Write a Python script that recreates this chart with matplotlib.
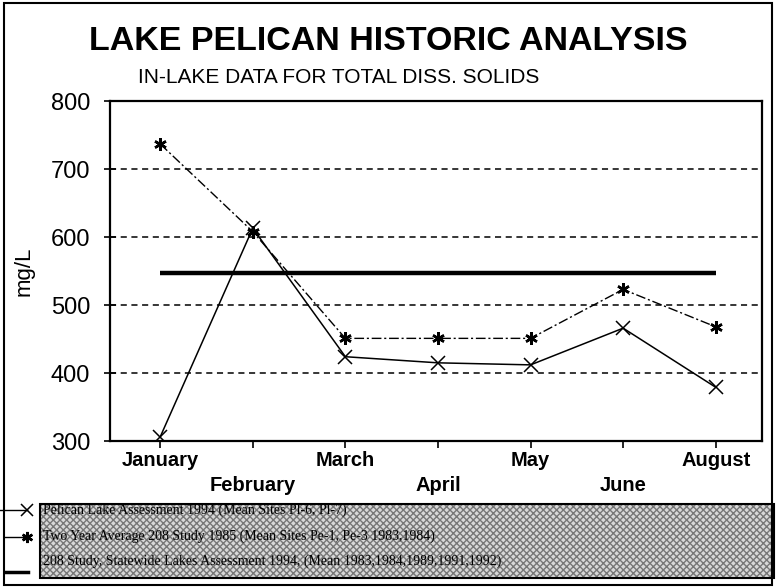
import matplotlib
matplotlib.use("Agg")
import matplotlib.pyplot as plt
from matplotlib.patches import Rectangle
from matplotlib.lines import Line2D

months = ["January", "February", "March", "April", "May", "June", "August"]
pelican_1994 = [306, 613, 424, 415, 412, 466, 379]
two_year_208 = [737, 608, 451, 451, 451, 523, 468]
statewide_1994 = [547, 547, 547, 547, 547, 547, 547]

legend_labels = [
    "Pelican Lake Assessment 1994 (Mean Sites Pl-6, Pl-7)",
    "Two Year Average 208 Study 1985 (Mean Sites Pe-1, Pe-3 1983,1984)",
    "208 Study, Statewide Lakes Assessment 1994, (Mean 1983,1984,1989,1991,1992)",
]

plt.rcParams['font.family'] = ['Liberation Sans', 'DejaVu Sans']

fig = plt.figure(figsize=(7.76, 5.88), dpi=100)
ax = fig.add_axes([0.142, 0.25, 0.840, 0.578])

x = list(range(len(months)))

ax.plot(x, statewide_1994, color="black", lw=3.2, solid_capstyle="butt", zorder=3)
ax.plot(x, two_year_208, color="black", lw=1.0, dashes=(7, 2, 1.5, 2),
        marker=(6, 2, 0), ms=9, mew=1.8, zorder=4)
ax.plot(x, pelican_1994, color="black", lw=1.1, marker="x", ms=10, mew=1.1, zorder=5)

ax.set_xlim(-0.54, 6.5)
ax.set_ylim(300, 800)
ax.set_yticks([300, 400, 500, 600, 700, 800])
ax.yaxis.grid(True, color="black", lw=1.1, dashes=(4, 3))
ax.set_axisbelow(True)

ax.set_xticks(x)
ax.set_xticklabels([])
for i, m in enumerate(months):
    off = -0.058 if i % 2 == 0 else -0.132
    ax.text(i, off, m, transform=ax.get_xaxis_transform(), ha="center", va="center",
            fontsize=14.5, fontweight="bold")

ax.tick_params(axis="y", direction="inout", length=9, width=1.2, labelsize=17, pad=10)
ax.tick_params(axis="x", direction="out", length=5, width=1.2)
for s in ax.spines.values():
    s.set_linewidth(1.6)

ax.set_ylabel("mg/L", fontsize=16)
ax.yaxis.set_label_coords(-0.116, 0.5)

fig.text(0.501, 0.930, "LAKE PELICAN HISTORIC ANALYSIS", ha="center", va="center",
         fontsize=24.5, fontweight="bold")
fig.text(0.437, 0.868, "IN-LAKE DATA FOR TOTAL DISS. SOLIDS", ha="center", va="center",
         fontsize=15)

# legend box with hatched fill
box = Rectangle((0.052, 0.017), 0.945, 0.126, transform=fig.transFigure,
                facecolor="#d8d8d8", edgecolor="#777777", hatch="xxxxx", lw=0)
fig.patches.append(box)
fig.patches.append(Rectangle((0.052, 0.017), 0.945, 0.126, transform=fig.transFigure,
                             facecolor="none", edgecolor="black", lw=1.5))
text_y = [0.132, 0.088, 0.046]
for ty, lab in zip(text_y, legend_labels):
    fig.text(0.055, ty, lab, fontsize=10, va="center", family="Liberation Serif")

# legend samples at left
fig.lines.append(Line2D([0.0, 0.035], [0.132, 0.132], transform=fig.transFigure,
                        color="black", lw=1, marker="x", ms=9, mew=1.1, markevery=[1]))
fig.lines.append(Line2D([0.005, 0.035], [0.086, 0.086], transform=fig.transFigure,
                        color="black", lw=1, marker=(6, 2, 0), ms=8, mew=1.8, markevery=[1]))
fig.lines.append(Line2D([0.008, 0.036], [0.028, 0.028], transform=fig.transFigure,
                        color="black", lw=2.5))

# outer frame
fig.patches.append(Rectangle((0.005, 0.005), 0.99, 0.99, transform=fig.transFigure,
                             facecolor="none", edgecolor="black", lw=1.5))

fig.savefig("out.png", dpi=100)
